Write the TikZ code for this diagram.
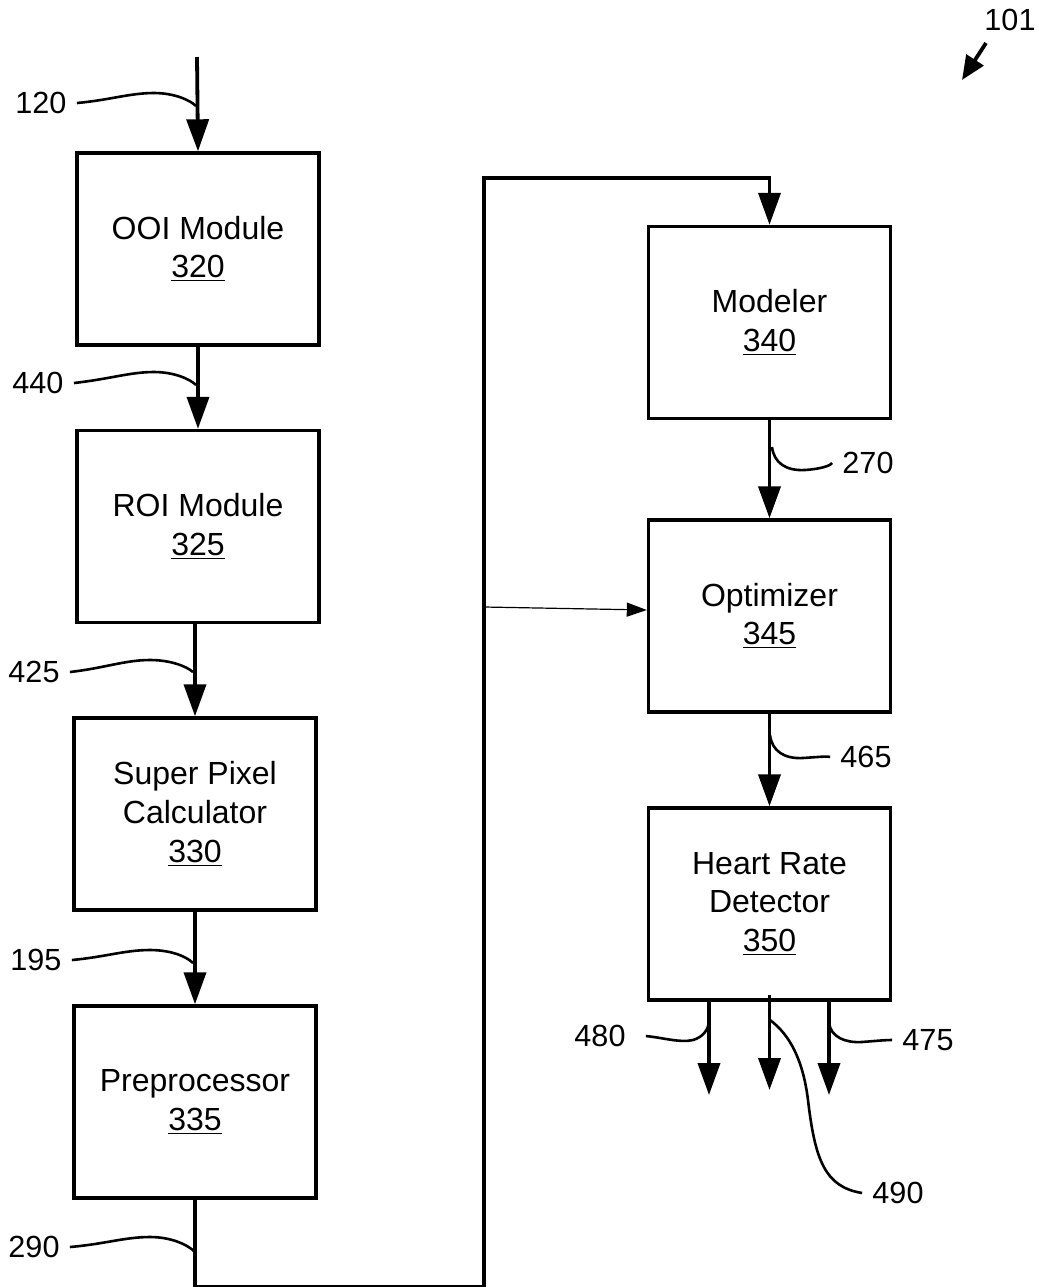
\documentclass[tikz,border=0pt]{standalone}
\usepackage{fontspec}
\setmainfont{Liberation Sans}
\usetikzlibrary{arrows.meta}

\tikzset{
  block/.style={draw, line width=1.7pt, minimum width=121pt, minimum height=96pt,
    align=center, inner sep=0pt, font=\fontsize{16pt}{19.3pt}\selectfont},
  tag/.style={inner sep=5pt, font=\fontsize{15.3pt}{18pt}\selectfont},
  flow/.style={line width=1.9pt, -{Triangle[width=11pt,length=16pt]}},
  feed/.style={line width=0.6pt, -{Triangle[width=7pt,length=10pt]}},
  lead/.style={line width=1.3pt},
}

\begin{document}
\begin{tikzpicture}[x=0.5pt, y=-0.5pt]
  \useasboundingbox (0,0) rectangle (1039,1287);

  % Blocks
  \node[block] (ooi) at (198,249)   {OOI Module\\\underline{320}};
  \node[block] (roi) at (198,526.5) {ROI Module\\\underline{325}};
  \node[block] (spc) at (195,814)   {Super Pixel\\Calculator\\\underline{330}};
  \node[block] (pre) at (195,1102)  {Preprocessor\\\underline{335}};
  \node[block] (mod) at (769.5,322.5) {Modeler\\\underline{340}};
  \node[block] (opt) at (769.5,616) {Optimizer\\\underline{345}};
  \node[block] (hrd) at (769.5,904) {Heart Rate\\Detector\\\underline{350}};

  % Free ends
  \coordinate (in)   at (197,57);
  \coordinate (bus)  at (484,178);
  \coordinate (tap)  at (484,607);
  \coordinate (outl) at (709,1095);
  \coordinate (outm) at (769.5,1090);
  \coordinate (outr) at (829,1095);

  % Connectors
  \draw[flow] (in) -- (ooi.north);
  \draw[flow] (ooi.south) -- (roi.north -| ooi.south);
  \draw[flow] (roi.south -| spc.north) -- (spc.north);
  \draw[flow] (spc.south) -- (pre.north);
  \draw[flow] (pre.south) -- ++(0,87) -| (bus) -| (mod.north);
  \draw[feed] (tap) -- ([yshift=3pt]opt.west);
  \draw[flow] (mod.south) -- (opt.north);
  \draw[flow] (opt.south) -- (hrd.north);
  \draw[flow] (hrd.south -| outl) -- (outl);
  \draw[flow] ([yshift=3.5pt]hrd.south) -- (outm);
  \draw[flow] (hrd.south -| outr) -- (outr);

  % Reference numerals
  \node[tag] (l101) at (1010,20)  {101};
  \coordinate (s101) at (986,43);
  \coordinate (e101) at (962,80);
  \draw[line width=1.9pt, -{Triangle[width=10pt,length=12pt]}] (s101) -- (e101);

  \node[tag] (l120) at (41,103)   {120};
  \node[tag] (l440) at (38,383)   {440};
  \node[tag] (l425) at (34,672)   {425};
  \node[tag] (l195) at (36,960)   {195};
  \node[tag] (l290) at (34,1247)  {290};
  \node[tag] (l270) at (868,463)  {270};
  \node[tag] (l465) at (866,757)  {465};
  \node[tag] (l480) at (600,1036) {480};
  \node[tag] (l475) at (928,1040) {475};
  \node[tag] (l490) at (898,1193) {490};

  \coordinate (t120) at (196,106);
  \coordinate (t440) at (196,385);
  \coordinate (t425) at (193,672);
  \coordinate (t195) at (193,963);
  \coordinate (t290) at (195,1252);
  \coordinate (t270) at (772,447);
  \coordinate (t465) at (770,735);
  \coordinate (t480) at (709,1022);
  \coordinate (t475) at (829,1023);
  \coordinate (t490) at (770,1020);

  % Leaders
  \draw[lead] (l120.east) .. controls (110,100) and (130,93) .. (154,93)
    .. controls (174,93) and (190,100) .. (t120);
  \draw[lead] (l440.east) .. controls (110,379) and (130,372) .. (154,372)
    .. controls (174,372) and (190,379) .. (t440);
  \draw[lead] (l425.east) .. controls (105,668) and (125,660) .. (150,660)
    .. controls (170,660) and (186,666) .. (t425);
  \draw[lead] (l195.east) .. controls (105,957) and (125,950) .. (150,950)
    .. controls (170,950) and (186,956) .. (t195);
  \draw[lead] (l290.east) .. controls (105,1244) and (125,1237) .. (150,1237)
    .. controls (170,1237) and (187,1244) .. (t290);
  \draw[lead] (t270) .. controls (774,463) and (786,471) .. (805,470)
    .. controls (820,469) and (830,466) .. (l270.west);
  \draw[lead] (t465) .. controls (772,751) and (784,759) .. (803,758)
    .. controls (818,757) and (828,756) .. (l465.west);
  \draw[lead] ([xshift=5pt]l480.east) .. controls (665,1038) and (680,1043) .. (693,1040)
    .. controls (703,1037) and (708,1030) .. (t480);
  \draw[lead] (t475) .. controls (831,1037) and (845,1043) .. (862,1042)
    .. controls (875,1041) and (885,1040) .. (l475.west);
  \draw[lead] (t490) .. controls (790,1035) and (803,1060) .. (808,1100)
    .. controls (815,1160) and (825,1187) .. (l490.west);
\end{tikzpicture}
\end{document}
